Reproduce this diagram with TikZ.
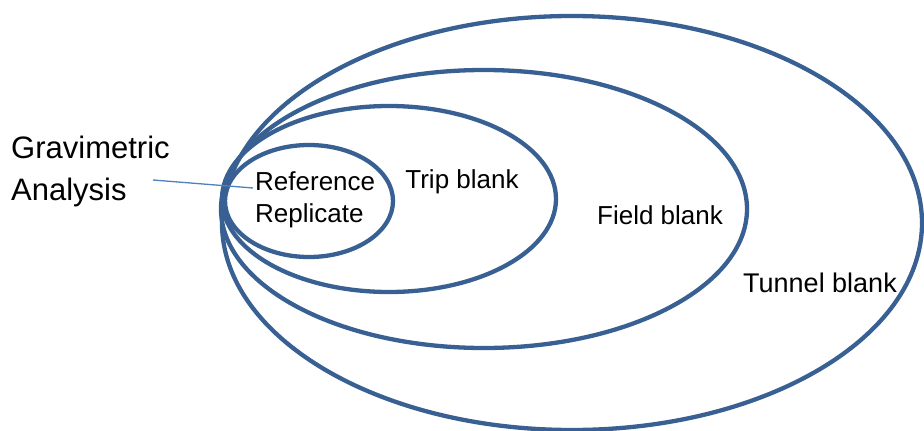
\documentclass[tikz,border=0pt]{standalone}
\usepackage{fontspec}
\setmainfont{Liberation Sans}
\usepackage{tikz}

\definecolor{setblue}{RGB}{56,96,146}
\definecolor{pointblue}{RGB}{79,129,189}
\tikzset{
  setline/.style={draw=setblue, line width=4.3pt},
  setlabel/.style={inner sep=0pt, font=\fontsize{26}{32}\selectfont},
}

\begin{document}
\begin{tikzpicture}[x=1pt,y=-1pt]
\useasboundingbox (0,0) rectangle (924,431);

% nested sets, all touching on the left
\draw [setline] (572,223) ellipse [x radius=350, y radius=207];
\draw [setline] (484,209) ellipse [x radius=263, y radius=139];
\draw [setline] (389,199) ellipse [x radius=167, y radius=93];
\draw [setline] (309,201) ellipse [x radius=84, y radius=56];

\node [setlabel, anchor=base west, align=left] (refrep) at (255,222) {Reference\\Replicate};
\node [setlabel, anchor=base] (trip) at (462,188) {Trip blank};
\node [setlabel, anchor=base] (field) at (660,224) {Field blank};
\node [setlabel, anchor=base, font=\fontsize{27}{32}\selectfont] (tunnel) at (820,292) {Tunnel blank};

\node [inner sep=0pt, anchor=base west, align=left, font=\fontsize{31}{42}\selectfont] (grav) at (11,200) {Gravimetric\\Analysis};
\coordinate (gravtip) at (153,180);
\coordinate (reftip) at (253,188);
\draw [pointblue, line width=1.3pt] (gravtip) -- (reftip);

\end{tikzpicture}
\end{document}
